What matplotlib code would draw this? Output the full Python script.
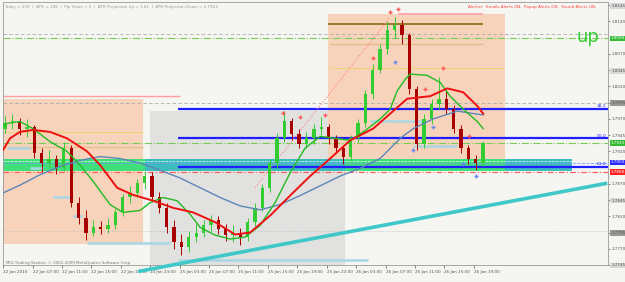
import numpy as np
import matplotlib.pyplot as plt
from matplotlib.transforms import blended_transform_factory

# hourly candles, 22-26 Jan 2010
closes = [1.7963, 1.7967, 1.7955, 1.7958, 1.7917, 1.7902, 1.7909, 1.7894, 1.7925, 1.7841,
          1.7818, 1.7795, 1.7803, 1.7800, 1.7806, 1.7826, 1.7849, 1.7856, 1.7871, 1.7882,
          1.7849, 1.7833, 1.7803, 1.7780, 1.7773, 1.7788, 1.7795, 1.7806, 1.7815, 1.7800,
          1.7791, 1.7795, 1.7788, 1.7811, 1.7833, 1.7864, 1.7902, 1.7940, 1.7967, 1.7947,
          1.7932, 1.7940, 1.7955, 1.7958, 1.7940, 1.7925, 1.7912, 1.7940, 1.7963, 1.8008,
          1.8046, 1.8077, 1.8107, 1.8115, 1.8099, 1.8016, 1.7932, 1.7970, 1.7993, 1.8001,
          1.7985, 1.7955, 1.7925, 1.7909, 1.7902, 1.7933]
highs = [1.7975, 1.7978, 1.7972, 1.7970, 1.7960, 1.7925, 1.7922, 1.7915, 1.7935, 1.7930,
         1.7850, 1.7830, 1.7815, 1.7812, 1.7818, 1.7832, 1.7855, 1.7866, 1.7878, 1.7890,
         1.7888, 1.7858, 1.7840, 1.7815, 1.7792, 1.7798, 1.7808, 1.7815, 1.7822, 1.7820,
         1.7808, 1.7806, 1.7802, 1.7818, 1.7840, 1.7870, 1.7908, 1.7948, 1.7982, 1.7972,
         1.7955, 1.7950, 1.7962, 1.7973, 1.7962, 1.7945, 1.7930, 1.7945, 1.7970, 1.8015,
         1.8055, 1.8085, 1.8120, 1.8127, 1.8122, 1.8102, 1.8020, 1.7978, 1.8000, 1.8034,
         1.8015, 1.7992, 1.7960, 1.7930, 1.7915, 1.7936]
lows = [1.7948, 1.7955, 1.7945, 1.7942, 1.7910, 1.7888, 1.7895, 1.7885, 1.7890, 1.7835,
        1.7808, 1.7783, 1.7790, 1.7792, 1.7795, 1.7800, 1.7820, 1.7840, 1.7850, 1.7862,
        1.7842, 1.7825, 1.7795, 1.7770, 1.7760, 1.7765, 1.7780, 1.7788, 1.7798, 1.7792,
        1.7782, 1.7780, 1.7776, 1.7782, 1.7805, 1.7828, 1.7858, 1.7895, 1.7935, 1.7938,
        1.7925, 1.7925, 1.7932, 1.7945, 1.7932, 1.7918, 1.7900, 1.7905, 1.7935, 1.7958,
        1.8000, 1.8040, 1.8070, 1.8095, 1.8085, 1.8008, 1.7922, 1.7925, 1.7962, 1.7985,
        1.7978, 1.7948, 1.7918, 1.7900, 1.7891, 1.7898]
first_open = 1.7955

# moving averages read at key points (candle index, price)
red_x = [-0.27, 0.68, 2.04, 3.81, 6.12, 8.44, 11.16, 12.93, 15.24, 17.41, 20.14, 22.86, 25.58,
         28.57, 31.29, 33.33, 36.05, 38.78, 41.5, 44.22, 46.94, 50.07, 52.38, 54.69, 57.82,
         60.14, 62.31, 64.22, 65.03]
red_y = [1.7922, 1.7940, 1.7950, 1.7953, 1.7950, 1.7940, 1.7920, 1.7899, 1.7864, 1.7853,
         1.7844, 1.7833, 1.7826, 1.7811, 1.7792, 1.7795, 1.7821, 1.7852, 1.7882, 1.7909,
         1.7937, 1.7955, 1.7978, 1.8001, 1.8005, 1.8017, 1.8011, 1.7990, 1.7978]
green_x = [-0.27, 0.27, 2.04, 3.81, 6.12, 8.44, 10.2, 11.97, 14.29, 16.05, 18.37, 19.73, 21.5,
           23.4, 25.17, 26.53, 28.57, 30.61, 32.65, 34.69, 36.73, 38.78, 40.82, 42.86, 44.9,
           46.94, 48.98, 51.02, 52.38, 53.33, 54.42, 55.1, 57.41, 59.18, 60.54, 62.31, 64.22,
           65.03]
green_y = [1.7961, 1.7963, 1.7966, 1.7955, 1.7935, 1.7920, 1.7899, 1.7874, 1.7838, 1.7826,
           1.7829, 1.7841, 1.7849, 1.7844, 1.7823, 1.7803, 1.7791, 1.7785, 1.7788, 1.7806,
           1.7841, 1.7887, 1.7925, 1.7943, 1.7940, 1.7937, 1.7952, 1.7970, 1.7985, 1.8013,
           1.8031, 1.8039, 1.8037, 1.8026, 1.8005, 1.7985, 1.7966, 1.7955]
blue_x = [-0.27, 2.04, 4.76, 7.48, 10.2, 12.93, 15.65, 18.37, 21.09, 23.81, 26.53, 29.25,
          31.97, 34.69, 37.41, 40.14, 42.86, 45.58, 48.3, 51.02, 53.74, 55.51, 58.23, 61.5,
          65.03]
blue_y = [1.7856, 1.7868, 1.7884, 1.7897, 1.7906, 1.7912, 1.7909, 1.7902, 1.7891, 1.7879,
          1.7864, 1.7849, 1.7836, 1.7830, 1.7838, 1.7852, 1.7867, 1.7882, 1.7894, 1.7909,
          1.7940, 1.7955, 1.7970, 1.7982, 1.7976]

fib_levels = [1.7985, 1.7940, 1.7896]
fib_names = ["38.2", "50.0", "61.8"]

# light blue support / resistance segments (x0, x1, price)
sr_segments = [(0.27, 3.4, 1.7925), (3.4, 5.2, 1.7894), (6.5, 8.8, 1.7849), (9.3, 10.5, 1.7821),
               (11.2, 22.4, 1.7779), (23.5, 49.4, 1.7752), (49.7, 56.9, 1.7966),
               (55.5, 61.5, 1.7928)]

frac_up_x = [37.8, 40.1, 43.5, 50.1, 52.4, 53.5, 57.1, 59.5, 63.1]
frac_up_y = [1.7979, 1.7973, 1.7976, 1.8064, 1.8134, 1.8139, 1.8016, 1.8048, 1.7944]
frac_dn_x = [53.1, 55.5, 58.2, 62.3, 64.1]
frac_dn_y = [1.8058, 1.7922, 1.7958, 1.7900, 1.7882]

y_ticks = [1.8145, 1.8120, 1.8070, 1.8045, 1.8020, 1.7995, 1.7970, 1.7945, 1.7920,
           1.7870, 1.7845, 1.7820, 1.7795, 1.7770, 1.7745]
x_labels = ["22 Jan 2010", "22 Jan 07:00", "22 Jan 11:00", "22 Jan 15:00", "22 Jan 19:00",
            "24 Jan 23:00", "25 Jan 03:00", "25 Jan 07:00", "25 Jan 11:00", "25 Jan 15:00",
            "25 Jan 19:00", "25 Jan 23:00", "26 Jan 03:00", "26 Jan 07:00", "26 Jan 11:00",
            "26 Jan 15:00", "26 Jan 19:00"]

bg = "#f5f5f1"
fig = plt.figure(figsize=(6.25, 2.82), dpi=100, facecolor=bg)
ax = fig.add_axes([3 / 625, 1 - 265 / 282, 605 / 625, 263 / 282])
ax.set_facecolor(bg)
ax.set_xlim(-0.27, 82.0)
ax.set_ylim(1.7750, 1.8150)

# boxes
ax.fill_between([-0.27, 18.78], 1.7777, 1.8001, color="#f8d3bb", lw=0, zorder=1)
ax.fill_between([19.73, 46.26], 1.7745, 1.7982, color="#e1e1df", lw=0, zorder=1)
ax.fill_between([43.95, 68.03], 1.7908, 1.8131, color="#f8d3bb", lw=0, zorder=1)

# zone band
for x0, x1, col in [(-0.27, 19.05, "#3fe07a"), (19.05, 46.26, "#3cbcbc"),
                    (46.26, 68.03, "#3fe07a"), (68.03, 77.1, "#3cbcbc")]:
    ax.fill_between([x0, x1], 1.7890, 1.7909, color=col, lw=0, zorder=2)

# horizontal levels
ax.axhline(1.8100, color="#aaaaaa", lw=0.6, ls=(0, (4, 3)), zorder=2)
ax.axhline(1.7995, color="#aaaaaa", lw=0.6, ls=(0, (4, 3)), zorder=2)
ax.axhline(1.7797, color="#bbbbbb", lw=0.6, ls=":", zorder=2)
ax.axhline(1.8094, color="#77cc55", lw=0.8, ls="-.", zorder=2)
ax.axhline(1.7933, color="#77cc55", lw=0.8, ls="-.", zorder=2)
ax.axhline(1.7888, color="#ff5555", lw=0.8, ls=(0, (5, 2, 1, 2)), zorder=2)
ax.axhline(1.7902, color="#7799ff", lw=0.6, ls="--", zorder=3)
ax.hlines(1.7905, -0.27, 77.1, color="#e8f8f0", lw=0.5, ls="--", zorder=3)
for p, name in zip(fib_levels, fib_names):
    ax.hlines(p, 23.5, 82.0, color="#1f1fff", lw=1.6, zorder=3)
    ax.text(81.8, p + 0.00012, name, color="#3333ff", fontsize=3.2, ha="right", va="bottom", zorder=6)

ax.hlines(1.8005, -0.27, 23.8, color="#ff9fa0", lw=1.0, zorder=2)
ax.hlines(1.7950, -0.27, 18.78, color="#e8d000", lw=0.7, ls=":", zorder=2)
ax.hlines(1.7927, -0.27, 18.78, color="#e6be8a", lw=0.9, zorder=2)
ax.hlines(1.8116, 43.95, 65.03, color="#8b6a14", lw=1.2, zorder=2)
ax.hlines(1.8131, 53.5, 65.03, color="#ff9fa8", lw=1.2, zorder=2)
ax.hlines(1.8086, 44.2, 65.03, color="#e2bc8c", lw=1.0, zorder=2)
ax.hlines(1.8049, 44.2, 68.03, color="#e8d000", lw=0.7, ls=":", zorder=2)
for x0, x1, p in sr_segments:
    ax.hlines(p, x0, x1, color="#a9d6e5", lw=1.8, zorder=2)

ax.plot([34.0, 52.4], [1.7864, 1.8127], color="#ff8080", lw=0.8, ls=":", zorder=3)
ax.plot([18.1, 81.9], [1.7735, 1.7871], color="#40c8c8", lw=2.6, zorder=3,
        clip_on=False, solid_capstyle="butt")

# candles
opens = [first_open] + closes[:-1]
for i, (o, h, l, c) in enumerate(zip(opens, highs, lows, closes)):
    col = "#33cc33" if c >= o else "#a80000"
    ax.vlines(i, l, h, color=col, lw=0.7, zorder=4)
    ax.bar(i, max(abs(c - o), 0.00005), bottom=min(o, c), width=0.45, color=col, lw=0, zorder=4)

ax.plot(blue_x, blue_y, color="#5b86b8", lw=1.0, zorder=5)
ax.plot(green_x, green_y, color="#22bb22", lw=1.0, zorder=5)
ax.plot(red_x, red_y, color="#ee1111", lw=1.4, zorder=5)

ax.plot(frac_up_x, frac_up_y, "+", color="#ff5555", ms=3.5, mew=1.0, zorder=6)
ax.plot(frac_dn_x, frac_dn_y, "+", color="#6688ee", ms=3.5, mew=1.0, zorder=6)

# axes
for s in ax.spines.values():
    s.set_color("#999999")
    s.set_linewidth(0.6)
ax.yaxis.tick_right()
ax.set_yticks(y_ticks)
ax.set_yticklabels([f"{v:.4f}" for v in y_ticks])
ax.tick_params(axis="y", labelsize=3.0, colors="#555555", length=1.5, width=0.5, pad=0.8)
shaded = {1.8145: "#d8d8d8", 1.8045: "#d8d8d8", 1.7995: "#999999", 1.7845: "#d8d8d8",
          1.7795: "#999999", 1.7745: "#d8d8d8"}
for lab, v in zip(ax.get_yticklabels(), y_ticks):
    if v in shaded:
        lab.set_bbox(dict(facecolor=shaded[v], edgecolor="none", pad=0.6))
ax.set_xticks(np.arange(len(x_labels)) * 4 - 0.25)
ax.set_xticklabels(x_labels, ha="left")
ax.tick_params(axis="x", labelsize=3.0, colors="#555555", length=2, width=0.5, pad=1.5)

tr = blended_transform_factory(ax.transAxes, ax.transData)
for p, txt, fc in [(1.8094, "1.8094", "#33bb33"), (1.7933, "1.7933", "#33bb33"),
                   (1.7903, "1.7903", "#2a2aff"), (1.7888, "1.7888", "#ff2222")]:
    ax.text(1.004, p, txt, transform=tr, fontsize=3.0, color="white", va="center", ha="left",
            bbox=dict(facecolor=fc, edgecolor="none", pad=0.6), zorder=7, clip_on=False)

fig.text(0.006, 1 - 7 / 282,
         "Today = 239  |  ATR = 208  |  Pip Value = 5  |  ATR Projection Up = 1.81  |  ATR Projection Down = 1.7923",
         fontsize=3.0, color="#999999", va="center")
fig.text(468 / 625, 1 - 7 / 282,
         "Alerter:  Emails Alerts ON.  Popup Alerts ON.  Sound Alerts ON.",
         fontsize=3.0, color="#ff4444", va="center")
fig.text(577 / 625, 1 - 42 / 282, "up", fontsize=13, color="#33cc33")
fig.text(6 / 625, 1 - 263 / 282, "MIG Trading Station, \u00a9 2001-2009 MetaQuotes Software Corp.",
         fontsize=2.9, color="#777777", va="center")

fig.savefig("out.png", dpi=100, facecolor=bg)
